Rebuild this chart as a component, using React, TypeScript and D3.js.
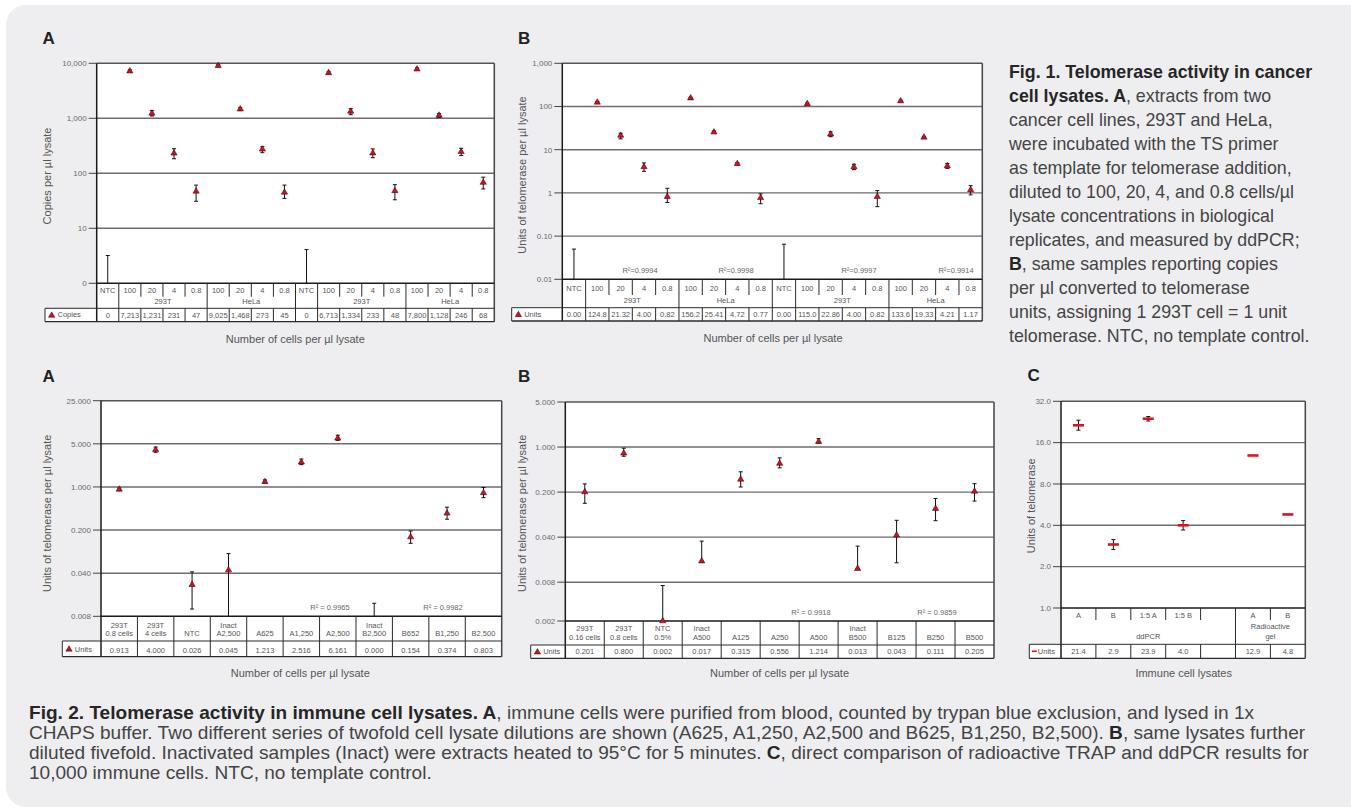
import { useEffect } from "react";
import * as d3 from "d3";

// ---------- data ----------

// Fig. 1 A / B: cancer cell lysates
const fig1Categories = ["NTC", "100", "20", "4", "0.8", "100", "20", "4", "0.8", "NTC", "100", "20", "4", "0.8", "100", "20", "4", "0.8"];
const fig1Groups = [
    { label: "", from: 0, to: 1 },
    { label: "293T", from: 1, to: 5 },
    { label: "HeLa", from: 5, to: 9 },
    { label: "", from: 9, to: 10 },
    { label: "293T", from: 10, to: 14 },
    { label: "HeLa", from: 14, to: 18 },
];

const copiesText = ["0", "7,213", "1,231", "231", "47", "9,025", "1,468", "273", "45", "0", "6,713", "1,334", "233", "48", "7,800", "1,128", "246", "68"];
const copiesLow = [0, 6850, 1100, 184, 31, 8650, 1380, 237, 35, 0, 6400, 1162, 192, 33, 7400, 1040, 210, 52];
const copiesHigh = [3.2, 7600, 1380, 280, 61, 9400, 1560, 305, 61, 4.1, 7000, 1496, 278, 62, 8200, 1220, 285, 85];
const copiesTicks = [1, 10, 100, 1000, 10000];
const copiesTickLabels = ["0", "10", "100", "1,000", "10,000"];

const units1Text = ["0.00", "124.8", "21.32", "4.00", "0.82", "156.2", "25.41", "4.72", "0.77", "0.00", "115.0", "22.86", "4.00", "0.82", "133.6", "19.33", "4.21", "1.17"];
const units1Low = [0, 119, 17.8, 3.16, 0.6, 149, 24, 4.45, 0.56, 0, 110, 20, 3.45, 0.48, 127, 18.4, 3.7, 0.9];
const units1High = [0.05, 130, 24, 4.95, 1.28, 163, 27, 5.0, 0.95, 0.065, 120, 26, 4.6, 1.13, 140, 20.3, 4.8, 1.47];
const units1Ticks = [0.01, 0.1, 1, 10, 100, 1000];
const units1TickLabels = ["0.01", "0.10", "1", "10", "100", "1,000"];
const units1R2 = ["0.9994", "0.9998", "0.9997", "0.9914"];

// Fig. 2 A: immune cell lysates
const immuneACategories = ["293T\n0.8 cells", "293T\n4 cells", "NTC", "Inact\nA2,500", "A625", "A1,250", "A2,500", "Inact\nB2,500", "B652", "B1,250", "B2,500"];
const immuneAText = ["0.913", "4.000", "0.026", "0.045", "1.213", "2.516", "6.161", "0.000", "0.154", "0.374", "0.803"];
const immuneALow = [0.87, 3.65, 0.0105, 0, 1.15, 2.3, 5.7, 0, 0.122, 0.3, 0.67];
const immuneAHigh = [0.96, 4.42, 0.042, 0.083, 1.3, 2.83, 6.9, 0.013, 0.193, 0.47, 0.98];
const immuneATicks = [0.008, 0.04, 0.2, 1, 5, 25];
const immuneATickLabels = ["0.008", "0.040", "0.200", "1.000", "5.000", "25.000"];
const immuneAR2 = ["0.9965", "0.9982"];

// Fig. 2 B: fivefold diluted
const immuneBCategories = ["293T\n0.16 cells", "293T\n0.8 cells", "NTC\n0.5%", "Inact\nA500", "A125", "A250", "A500", "Inact\nB500", "B125", "B250", "B500"];
const immuneBText = ["0.201", "0.800", "0.002", "0.017", "0.315", "0.556", "1.214", "0.013", "0.043", "0.111", "0.205"];
const immuneBLow = [0.134, 0.72, 0.002, 0.017, 0.24, 0.475, 1.15, 0.013, 0.016, 0.072, 0.145];
const immuneBHigh = [0.268, 0.96, 0.0071, 0.0347, 0.413, 0.68, 1.35, 0.029, 0.073, 0.159, 0.27];
const immuneBTicks = [0.002, 0.008, 0.04, 0.2, 1, 5];
const immuneBTickLabels = ["0.002", "0.008", "0.040", "0.200", "1.000", "5.000"];
const immuneBR2 = ["0.9918", "0.9859"];

// Fig. 2 C: ddPCR vs radioactive gel
const compareCategories = ["A", "B", "1:5 A", "1:5 B", "", "A", "B"];
const compareGroups = [
    { label: "ddPCR", from: 0, to: 5 },
    { label: "Radioactive\ngel", from: 5, to: 7 },
];
const compareText = ["21.4", "2.9", "23.9", "4.0", "", "12.9", "4.8"];
const compareLow = [19.7, 2.67, 23, 3.7, null, null, null];
const compareHigh = [23.3, 3.15, 24.8, 4.33, null, null, null];
const compareTicks = [1, 2, 4, 8, 16, 32];
const compareTickLabels = ["1.0", "2.0", "4.0", "8.0", "16.0", "32.0"];

// captions
type Seg = [string, boolean];
const fig1Caption: Seg[][] = [
    [["Fig. 1. Telomerase activity in cancer", true]],
    [["cell lysates. A", true], [", extracts from two", false]],
    [["cancer cell lines, 293T and HeLa,", false]],
    [["were incubated with the TS primer", false]],
    [["as template for telomerase addition,", false]],
    [["diluted to 100, 20, 4, and 0.8 cells/µl", false]],
    [["lysate concentrations in biological", false]],
    [["replicates, and measured by ddPCR;", false]],
    [["B", true], [", same samples reporting copies", false]],
    [["per µl converted to telomerase", false]],
    [["units, assigning 1 293T cell = 1 unit", false]],
    [["telomerase. NTC, no template control.", false]],
];
const fig2Caption: Seg[][] = [
    [["Fig. 2. Telomerase activity in immune cell lysates. A", true], [", immune cells were purified from blood, counted by trypan blue exclusion, and lysed in 1x", false]],
    [["CHAPS buffer. Two different series of twofold cell lysate dilutions are shown (A625, A1,250, A2,500 and B625, B1,250, B2,500). ", false], ["B", true], [", same lysates further", false]],
    [["diluted fivefold. Inactivated samples (Inact) were extracts heated to 95°C for 5 minutes. ", false], ["C", true], [", direct comparison of radioactive TRAP and ddPCR results for", false]],
    [["10,000 immune cells. NTC, no template control.", false]],
];

// ---------- drawing ----------

const FONT = "'Liberation Sans', Arial, Helvetica, sans-serif";
const RED = "#d3101c";

type Box = { left: number; right: number; top: number; bottom: number };
type Table = {
    cat1: number; cat2: number; tickEnd: number; group: number;
    dataTop: number; dataBottom: number; value: number; legendLeft: number;
};
type Group = { label: string; from: number; to: number };

type PanelProps = {
    box: Box;
    table: Table;
    y: d3.ScaleLogarithmic<number, number>;
    ticks: number[];
    tickLabels: string[];
    categories: string[];
    groups?: Group[];
    text: string[];
    low: (number | null)[];
    high: (number | null)[];
    marker: "triangle" | "dash";
    legend: string;
    label: string; labelX: number; labelY: number;
    yTitle: string; yTitleX: number; yTitleY: number;
    xTitle: string; xTitleX: number; xTitleY: number;
    r2?: { text: string; x: number; y: number }[];
};

const Panel = (p: PanelProps) => {
    const { box, table: t, y } = p;
    const n = p.categories.length;
    const x = d3.scaleBand<number>().domain(d3.range(n)).range([box.left, box.right]);
    const bw = x.bandwidth();
    const mid = (i: number) => (x(i) ?? 0) + bw / 2;
    const edge = (i: number) => box.left + i * bw;
    const [yMin, yMax] = y.domain();
    const groups = p.groups ?? d3.range(n).map((i) => ({ label: "", from: i, to: i + 1 }));
    const fullEdges = new Set(groups.map((g) => g.from).concat([n]));
    const values = p.text.map((s) => (s === "" ? null : +s.replace(/,/g, "")));
    const tri = d3.symbol(d3.symbolTriangle, 17)() ?? "";
    const line = { stroke: "#2a2a2a", strokeWidth: 1 };

    return (
        <g fontFamily={FONT}>
            <rect x={box.left} y={box.top} width={box.right - box.left} height={t.dataBottom - box.top} fill="#fff" />
            <rect x={t.legendLeft} y={t.dataTop} width={box.left - t.legendLeft} height={t.dataBottom - t.dataTop} fill="#fff" />

            {p.ticks
                .filter((v) => v > yMin && v < yMax)
                .map((v) => (
                    <line key={"g" + v} x1={box.left} x2={box.right} y1={y(v)} y2={y(v)} stroke="#6d6d6d" strokeWidth={1.4} />
                ))}
            {p.ticks.map((v, i) => (
                <g key={"t" + v}>
                    <line x1={box.left - 8} x2={box.left} y1={y(v)} y2={y(v)} stroke="#444" strokeWidth={1} />
                    <text x={box.left - 10} y={y(v) + 2.8} textAnchor="end" fontSize={8} fill="#6a6a6a">
                        {p.tickLabels[i]}
                    </text>
                </g>
            ))}

            {/* frame */}
            <line x1={box.left} x2={box.right} y1={box.top} y2={box.top} stroke="#555" strokeWidth={1.5} />
            <line x1={box.right} x2={box.right} y1={box.top} y2={t.dataBottom} stroke="#444" strokeWidth={1.5} />
            <line x1={box.left} x2={box.right} y1={box.bottom} y2={box.bottom} stroke="#1a1a1a" strokeWidth={1.5} />
            <line x1={box.left} x2={box.left} y1={box.top} y2={t.dataBottom} stroke="#1a1a1a" strokeWidth={1.5} />

            {/* table */}
            <line x1={t.legendLeft} x2={box.right} y1={t.dataTop} y2={t.dataTop} {...line} />
            <line x1={t.legendLeft} x2={box.right} y1={t.dataBottom} y2={t.dataBottom} {...line} strokeWidth={1.3} />
            <line x1={t.legendLeft} x2={t.legendLeft} y1={t.dataTop} y2={t.dataBottom} {...line} />
            {d3.range(1, n).map((i) =>
                fullEdges.has(i) ? (
                    <line key={"e" + i} x1={edge(i)} x2={edge(i)} y1={box.bottom} y2={t.dataBottom} {...line} />
                ) : (
                    <g key={"e" + i}>
                        <line x1={edge(i)} x2={edge(i)} y1={box.bottom} y2={t.tickEnd} {...line} />
                        <line x1={edge(i)} x2={edge(i)} y1={t.dataTop} y2={t.dataBottom} {...line} />
                    </g>
                )
            )}

            {p.categories.map((c, i) => {
                const parts = c.split("\n");
                return (
                    <text key={"c" + i} textAnchor="middle" fontSize={7.5} fill="#555">
                        {parts.map((s, k) => (
                            <tspan key={k} x={mid(i)} y={parts.length === 2 && k === 0 ? t.cat1 : t.cat2}>
                                {s}
                            </tspan>
                        ))}
                    </text>
                );
            })}
            {groups
                .filter((g) => g.label)
                .map((g, gi) => {
                    const parts = g.label.split("\n");
                    const cx = (edge(g.from) + edge(g.to)) / 2;
                    return (
                        <text key={"gr" + gi} textAnchor="middle" fontSize={7.5} fill="#555">
                            {parts.map((s, k) => (
                                <tspan key={k} x={cx} y={t.group - (parts.length - 1 - k) * 9.3}>
                                    {s}
                                </tspan>
                            ))}
                        </text>
                    );
                })}
            {p.text.map((s, i) => (
                <text key={"v" + i} x={mid(i)} y={t.value} textAnchor="middle" fontSize={7.5} fill="#555">
                    {s}
                </text>
            ))}

            {/* legend cell */}
            {p.marker === "triangle" ? (
                <path d={tri} transform={`translate(${t.legendLeft + 6.7},${(t.dataTop + t.dataBottom) / 2 + 0.5})`} fill={RED} stroke="#2a0000" strokeWidth={0.5} />
            ) : (
                <line x1={t.legendLeft + 2.5} x2={t.legendLeft + 7.5} y1={(t.dataTop + t.dataBottom) / 2} y2={(t.dataTop + t.dataBottom) / 2} stroke={RED} strokeWidth={1.6} />
            )}
            <text x={t.legendLeft + (p.marker === "triangle" ? 12.5 : 8.5)} y={t.value - 0.5} fontSize={7.5} fill="#555">
                {p.legend}
            </text>

            {p.r2?.map((r, i) => (
                <text key={"r" + i} x={r.x} y={r.y} textAnchor="middle" fontSize={7.5} fill="#666">
                    {r.text}
                </text>
            ))}

            {/* error bars */}
            {p.high.map((hi, i) => {
                if (hi == null) return null;
                const lo = p.low[i];
                const yHi = Math.max(box.top, y(hi));
                const loClipped = lo == null || lo <= yMin;
                const yLo = loClipped ? box.bottom : y(lo as number);
                const cx = mid(i);
                return (
                    <g key={"b" + i} stroke="#111" strokeWidth={1}>
                        <line x1={cx} x2={cx} y1={yHi} y2={yLo} />
                        <line x1={cx - 2} x2={cx + 2} y1={yHi} y2={yHi} />
                        {!loClipped && <line x1={cx - 2} x2={cx + 2} y1={yLo} y2={yLo} />}
                    </g>
                );
            })}

            {/* markers */}
            {values.map((v, i) => {
                if (v == null || v <= 0 || v < yMin) return null;
                return p.marker === "triangle" ? (
                    <path key={"m" + i} d={tri} transform={`translate(${mid(i)},${y(v)})`} fill={RED} stroke="#2a0000" strokeWidth={0.5} />
                ) : (
                    <line key={"m" + i} x1={mid(i) - 5.5} x2={mid(i) + 5.5} y1={y(v)} y2={y(v)} stroke="#e3101c" strokeWidth={2.6} />
                );
            })}

            <text x={p.labelX} y={p.labelY} fontSize={17} fontWeight="bold" fill="#222">
                {p.label}
            </text>
            <text transform={`translate(${p.yTitleX},${p.yTitleY}) rotate(-90)`} textAnchor="middle" fontSize={11} fill="#555">
                {p.yTitle}
            </text>
            <text x={p.xTitleX} y={p.xTitleY} textAnchor="middle" fontSize={11} fill="#555">
                {p.xTitle}
            </text>
        </g>
    );
};

const Caption = ({ lines, x, y0, step, size, scaleX = 1 }: { lines: Seg[][]; x: number; y0: number; step: number; size: number; scaleX?: number }) => (
    <g transform={`translate(${x},0) scale(${scaleX},1)`} fontFamily={FONT} fontSize={size} style={{ whiteSpace: "pre" }}>
        {lines.map((segs, i) => (
            <text key={i} x={0} y={y0 + i * step} fill="#444">
                {segs.map(([s, b], k) => (
                    <tspan key={k} fontWeight={b ? "bold" : "normal"} fill={b ? "#262626" : "#444"}>
                        {s}
                    </tspan>
                ))}
            </text>
        ))}
    </g>
);

const App = () => {
    useEffect(() => {
        document.body.style.margin = "0";
    }, []);

    const yA = d3.scaleLog().domain([1, 10000]).range([283.3, 63.3]);
    const yB = d3.scaleLog().domain([0.01, 1000]).range([279.3, 63.3]);
    const y2A = d3.scaleLog().domain([0.008, 25]).range([616.3, 400.7]);
    const y2B = d3.scaleLog().domain([0.002, 5]).range([621, 402]);
    const y2C = d3.scaleLog().base(2).domain([1, 32]).range([608, 401.3]);
    const xTitle = "Number of cells per µl lysate";

    return (
        <svg width={1351} height={812} style={{ position: "absolute", left: 0, top: 0 }}>
            <rect width={1351} height={812} fill="#fff" />
            <rect x={6} y={5} width={1365} height={802} rx={20} fill="#eeeef0" />

            <Panel
                box={{ left: 96.7, right: 494.3, top: 63.3, bottom: 283.3 }}
                table={{ cat1: 292.7, cat2: 292.7, tickEnd: 296.7, group: 304.4, dataTop: 308.3, dataBottom: 321.7, value: 317.7, legendLeft: 45 }}
                y={yA}
                ticks={copiesTicks}
                tickLabels={copiesTickLabels}
                categories={fig1Categories}
                groups={fig1Groups}
                text={copiesText}
                low={copiesLow}
                high={copiesHigh}
                marker="triangle"
                legend="Copies"
                label="A" labelX={42.5} labelY={44}
                yTitle="Copies per µl lysate" yTitleX={51} yTitleY={176}
                xTitle={xTitle} xTitleX={295.3} xTitleY={343}
            />
            <Panel
                box={{ left: 562.3, right: 982.3, top: 63.3, bottom: 279.3 }}
                table={{ cat1: 290.7, cat2: 290.7, tickEnd: 295, group: 303.4, dataTop: 307.7, dataBottom: 321, value: 317, legendLeft: 511.7 }}
                y={yB}
                ticks={units1Ticks}
                tickLabels={units1TickLabels}
                categories={fig1Categories}
                groups={fig1Groups}
                text={units1Text}
                low={units1Low}
                high={units1High}
                marker="triangle"
                legend="Units"
                label="B" labelX={518} labelY={44}
                yTitle="Units of telomerase per µl lysate" yTitleX={525.6} yTitleY={175}
                xTitle={xTitle} xTitleX={773} xTitleY={342.3}
                r2={units1R2.map((r, i) => ({ text: `R²=${r}`, x: [640, 736, 859, 956][i], y: 273 }))}
            />
            <Caption lines={fig1Caption} x={1009} y0={77.5} step={24.05} size={17.8} />

            <Panel
                box={{ left: 101, right: 501.7, top: 400.7, bottom: 616.3 }}
                table={{ cat1: 627.7, cat2: 636.4, tickEnd: 641, group: 0, dataTop: 641, dataBottom: 656.7, value: 652.7, legendLeft: 62.3 }}
                y={y2A}
                ticks={immuneATicks}
                tickLabels={immuneATickLabels}
                categories={immuneACategories}
                text={immuneAText}
                low={immuneALow}
                high={immuneAHigh}
                marker="triangle"
                legend="Units"
                label="A" labelX={42.5} labelY={382}
                yTitle="Units of telomerase per µl lysate" yTitleX={51.3} yTitleY={513.3}
                xTitle={xTitle} xTitleX={300.3} xTitleY={676.7}
                r2={immuneAR2.map((r, i) => ({ text: `R² = ${r}`, x: [330, 443][i], y: 609.5 }))}
            />
            <Panel
                box={{ left: 565.3, right: 994, top: 402, bottom: 621 }}
                table={{ cat1: 631, cat2: 640, tickEnd: 645, group: 0, dataTop: 645, dataBottom: 658.3, value: 654.3, legendLeft: 530.7 }}
                y={y2B}
                ticks={immuneBTicks}
                tickLabels={immuneBTickLabels}
                categories={immuneBCategories}
                text={immuneBText}
                low={immuneBLow}
                high={immuneBHigh}
                marker="triangle"
                legend="Units"
                label="B" labelX={518} labelY={382}
                yTitle="Units of telomerase per µl lysate" yTitleX={525.6} yTitleY={513.3}
                xTitle={xTitle} xTitleX={779.5} xTitleY={676.7}
                r2={immuneBR2.map((r, i) => ({ text: `R² = ${r}`, x: [811, 937][i], y: 615 }))}
            />
            <Panel
                box={{ left: 1061, right: 1305.3, top: 401.3, bottom: 608 }}
                table={{ cat1: 617.7, cat2: 617.7, tickEnd: 620, group: 638.7, dataTop: 644.3, dataBottom: 658.3, value: 654.4, legendLeft: 1029.3 }}
                y={y2C}
                ticks={compareTicks}
                tickLabels={compareTickLabels}
                categories={compareCategories}
                groups={compareGroups}
                text={compareText}
                low={compareLow}
                high={compareHigh}
                marker="dash"
                legend="Units"
                label="C" labelX={1027.5} labelY={381}
                yTitle="Units of telomerase" yTitleX={1034.6} yTitleY={505.8}
                xTitle="Immune cell lysates" xTitleX={1183.7} xTitleY={677}
            />

            <Caption lines={fig2Caption} x={29} y0={719.3} step={20} size={17.5} scaleX={1.09} />
        </svg>
    );
};

export default App;
